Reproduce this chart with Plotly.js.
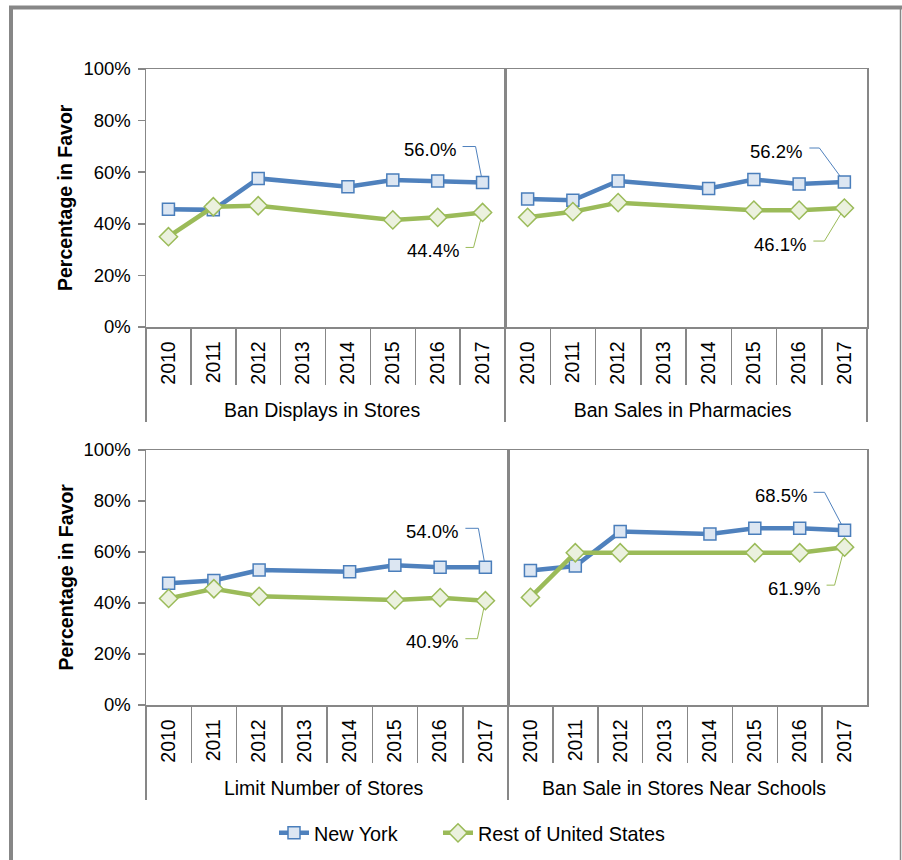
<!DOCTYPE html>
<html>
<head>
<meta charset="utf-8">
<script src="https://cdn.plot.ly/plotly-3.0.1.min.js"></script>
<style>html,body{margin:0;padding:0;background:#fff;}#chart{width:902px;height:860px;}</style>
</head>
<body>
<div id="chart"></div>
<script>
const years = ['2010','2011','2012','2013','2014','2015','2016','2017'];
const categories = ['Ban Displays in Stores','Ban Sales in Pharmacies','Limit Number of Stores','Ban Sale in Stores Near Schools'];
const seriesNames = ['New York','Rest of United States'];
const yTicks = [0,20,40,60,80,100];

const nyDisplays   = [45.6, 45.4, 57.6, null, 54.4, 57.0, 56.6, 56.0];
const restDisplays = [35.0, 46.6, 47.0, null, null, 41.5, 42.5, 44.4];
const nyPharm      = [49.6, 49.1, 56.6, null, 53.7, 57.2, 55.4, 56.2];
const restPharm    = [42.5, 44.7, 48.2, null, null, 45.3, 45.3, 46.1];
const nyLimit      = [47.7, 48.8, 52.9, null, 52.3, 54.8, 54.0, 54.0];
const restLimit    = [41.8, 45.6, 42.6, null, null, 41.2, 42.1, 40.9];
const nySchools    = [52.7, 54.5, 68.0, null, 67.1, 69.3, 69.3, 68.5];
const restSchools  = [42.2, 59.7, 59.7, null, null, 59.7, 59.7, 61.9];

const W = 902, H = 860;
const FONT = 'Liberation Sans, Arial, sans-serif';
const GREY = '#878787';
const BLUE = '#4f81bd', BLUE_FILL = '#dce6f2', BLUE_EDGE = '#4a7ebb';
const GREEN = '#9bbb59', GREEN_FILL = '#ebf1de';

const panels = [
  {cat: categories[0], ny: nyDisplays, rest: restDisplays, px: [146, 505], py: [69, 327], left: true,
   lead: {ny: [-7, 36, -20], rest: [-9, -35, -17]}},
  {cat: categories[1], ny: nyPharm, rest: restPharm, px: [505, 867], py: [69, 327], left: false,
   lead: {ny: [-25, 34, -35], rest: [-20, -33, -31]}},
  {cat: categories[2], ny: nyLimit, rest: restLimit, px: [146, 508], py: [450, 705], left: true,
   lead: {ny: [-7, 39, -20], rest: [-8, -38, -20]}},
  {cat: categories[3], ny: nySchools, rest: restSchools, px: [508, 867], py: [450, 705], left: false,
   lead: {ny: [-20, 38, -31], rest: [-10, -38, -18]}}
];

const legendStyle = (xpx) => ({
  orientation: 'h', x: xpx / W, xanchor: 'left', y: 1 - 833 / H, yanchor: 'middle',
  font: {family: FONT, size: 19.8, color: '#000'}, bgcolor: 'rgba(0,0,0,0)'
});

const data = [];
const layout = {
  width: W, height: H,
  margin: {l: 0, r: 0, t: 0, b: 0},
  paper_bgcolor: '#fff', plot_bgcolor: '#fff',
  font: {family: FONT, size: 18, color: '#000'},
  showlegend: true,
  legend: legendStyle(274),
  legend2: legendStyle(438),
  annotations: [],
  shapes: []
};

panels.forEach((p, i) => {
  const n = i + 1;
  const xa = n === 1 ? 'x' : 'x' + n;
  const ya = n === 1 ? 'y' : 'y' + n;
  const xKey = n === 1 ? 'xaxis' : 'xaxis' + n;
  const yKey = n === 1 ? 'yaxis' : 'yaxis' + n;
  const xcats = [years.map(() => p.cat), years];

  data.push({
    type: 'scatter', mode: 'lines+markers', name: seriesNames[0], legend: 'legend', showlegend: i === 0,
    x: xcats, y: p.ny, xaxis: xa, yaxis: ya, connectgaps: true, cliponaxis: false,
    line: {color: BLUE, width: 4.5},
    marker: {symbol: 'square', size: 12, color: BLUE_FILL, line: {color: BLUE_EDGE, width: 1.5}},
    hoverinfo: 'skip'
  });
  data.push({
    type: 'scatter', mode: 'lines+markers', name: seriesNames[1], legend: 'legend2', showlegend: i === 0,
    x: xcats, y: p.rest, xaxis: xa, yaxis: ya, connectgaps: true, cliponaxis: false,
    line: {color: GREEN, width: 4.5},
    marker: {symbol: 'diamond', size: 14, color: GREEN_FILL, line: {color: GREEN, width: 1.5}},
    hoverinfo: 'skip'
  });

  layout[xKey] = {
    type: 'multicategory', domain: [p.px[0] / W, p.px[1] / W], anchor: ya,
    range: [-0.5, years.length - 0.5], autorange: false,
    tickangle: -90, tickson: 'boundaries', ticks: 'outside', ticklen: 56, tickwidth: 1.5, tickcolor: GREY,
    ticklabelstandoff: 5,
    showline: true, linecolor: GREY, linewidth: 1.5, mirror: true, showgrid: false,
    showdividers: true, dividercolor: GREY, dividerwidth: 1.5,
    tickfont: {family: FONT, size: 19.5, color: '#000'}, fixedrange: true
  };
  layout[yKey] = {
    domain: [1 - p.py[1] / H, 1 - p.py[0] / H], anchor: xa, range: [0, 100], autorange: false,
    tickmode: 'array', tickvals: yTicks, ticktext: yTicks.map(v => v + '%'),
    ticks: p.left ? 'outside' : '', ticklen: 7, tickwidth: 1.5, tickcolor: GREY,
    showticklabels: p.left, showline: true, linecolor: GREY, linewidth: 1.5, mirror: true,
    showgrid: false, zeroline: false, ticklabelstandoff: 3,
    tickfont: {family: FONT, size: 18.5, color: '#000'}, fixedrange: true
  };

  if (p.left) {
    layout.annotations.push({
      xref: 'paper', yref: 'paper', x: 65 / W, y: 1 - (p.py[0] + p.py[1]) / 2 / H,
      text: '<b>Percentage in Favor</b>', textangle: -90, showarrow: false,
      xanchor: 'center', yanchor: 'middle', font: {family: FONT, size: 19.5, color: '#000'}
    });
  }

  const last = years.length - 1;
  const xfrac = (last + 0.5) / years.length;
  [['ny', p.ny, BLUE], ['rest', p.rest, GREEN]].forEach(([key, arr, col]) => {
    const v = arr[last];
    const [a, b, c] = p.lead[key];
    layout.shapes.push({
      type: 'path', xref: xa + ' domain', yref: ya, xsizemode: 'pixel', ysizemode: 'pixel',
      xanchor: xfrac, yanchor: v, path: `M0,0L${a},${b}L${c},${b}`,
      line: {color: col, width: 1}, layer: 'below'
    });
    layout.annotations.push({
      xref: xa + ' domain', yref: ya, x: xfrac, y: v, text: v.toFixed(1) + '%', showarrow: false,
      xanchor: 'right', yanchor: 'middle', xshift: c - 5, yshift: b - 3,
      font: {family: FONT, size: 18.5, color: '#000'}
    });
  });
});

// outer frame
layout.shapes.push(
  {type: 'line', xref: 'paper', yref: 'paper', x0: 9 / W, x1: 1, y0: 1 - 7.5 / H, y1: 1 - 7.5 / H, line: {color: GREY, width: 4}},
  {type: 'line', xref: 'paper', yref: 'paper', x0: 11 / W, x1: 11 / W, y0: 0, y1: 1 - 6 / H, line: {color: GREY, width: 4}},
  {type: 'line', xref: 'paper', yref: 'paper', x0: 900.5 / W, x1: 900.5 / W, y0: 0, y1: 1 - 6 / H, line: {color: GREY, width: 1.5}}
);

Plotly.newPlot('chart', data, layout, {displayModeBar: false, staticPlot: true});
</script>
</body>
</html>
